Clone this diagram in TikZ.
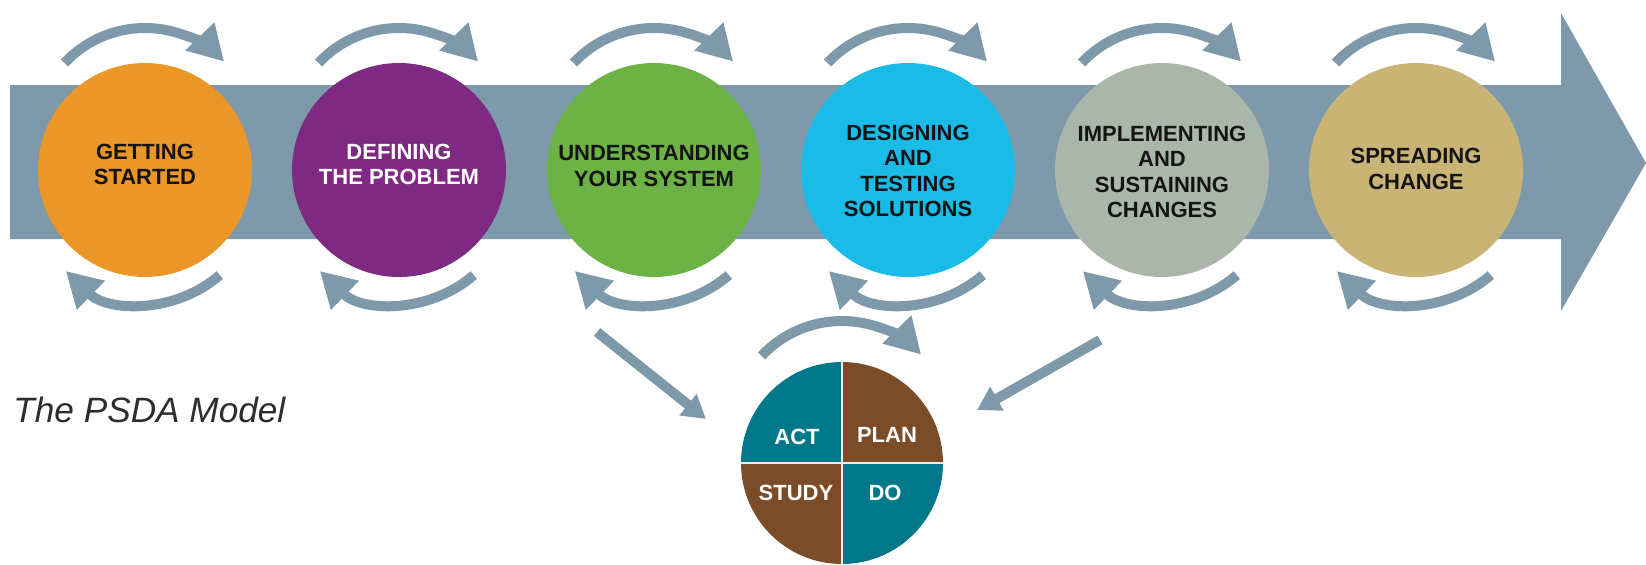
\documentclass[tikz,border=0pt]{standalone}
\usepackage{fontspec}
\setmainfont{Liberation Sans}
\usetikzlibrary{arrows.meta}
\definecolor{bandc}{RGB}{126,153,170}
\definecolor{c1}{RGB}{234,150,40}
\definecolor{c2}{RGB}{126,42,130}
\definecolor{c3}{RGB}{108,178,68}
\definecolor{c4}{RGB}{26,187,230}
\definecolor{c5}{RGB}{170,182,170}
\definecolor{c6}{RGB}{202,180,117}
\definecolor{tealq}{RGB}{0,120,138}
\definecolor{brownq}{RGB}{122,76,40}
\definecolor{txtc}{RGB}{20,20,20}
\definecolor{titlec}{RGB}{45,45,45}
\begin{document}
\begin{tikzpicture}[x=0.5pt,y=-0.5pt,
  stage/.style={circle, inner sep=0pt, minimum size=107pt},
  lbl/.style={font=\fontsize{11}{12.8}\selectfont\bfseries, align=center, text=txtc, inner sep=0pt},
  qlbl/.style={font=\fontsize{11}{12.8}\selectfont\bfseries, text=white, inner sep=0pt},
  loopar/.style={draw=bandc, line width=5pt, -{Triangle[width=19pt,length=17.5pt]}},
  diagar/.style={draw=bandc, line width=5pt, -{Triangle[width=13pt,length=11.5pt]}}]
\useasboundingbox (0,0) rectangle (1646,564);
\clip (0,0) rectangle (1646,564);
% main band arrow
\fill[bandc] (10,85) -- (1561,85) -- (1561,13) -- (1646,163) -- (1561,311) -- (1561,239) -- (10,239) -- cycle;
% stage circles
\node[stage, fill=c1] (s1) at (145,170) {};
\node[stage, fill=c2] (s2) at (399,170) {};
\node[stage, fill=c3] (s3) at (654,170) {};
\node[stage, fill=c4] (s4) at (908,170) {};
\node[stage, fill=c5] (s5) at (1162,170) {};
\node[stage, fill=c6] (s6) at (1416,170) {};
% labels
\node[lbl] (l1) at (145,164.5) {GETTING\\STARTED};
\node[lbl, text=white] (l2) at (399,164.5) {DEFINING\\THE PROBLEM};
\node[lbl] (l3) at (654,166) {UNDERSTANDING\\YOUR SYSTEM};
\node[lbl] (l4) at (908,171) {DESIGNING\\AND\\TESTING\\SOLUTIONS};
\node[lbl] (l5) at (1162,172) {IMPLEMENTING\\AND\\SUSTAINING\\CHANGES};
\node[lbl] (l6) at (1416,169) {SPREADING\\CHANGE};
% loop arrows
\foreach \i/\x in {1/145,2/399,3/654,4/908,5/1162,6/1416} {
  \coordinate (tc\i) at (\x,138);
  \coordinate (bc\i) at (\x,189);
  \draw[loopar] ([shift={(-137:110)}]tc\i) arc[start angle=-137,end angle=-44,radius=110];
  \draw[loopar] ([shift={(49:114)}]bc\i) arc[start angle=49,end angle=134,radius=114];
}
% PDSA wheel
\node[circle, inner sep=0pt, minimum size=101pt] (pdsa) at (842,463) {};
\begin{scope}
  \clip (pdsa.center) circle[radius=101];
  \fill[tealq] (pdsa.center) rectangle ++(-110,-110);
  \fill[brownq] (pdsa.center) rectangle ++(110,-110);
  \fill[brownq] (pdsa.center) rectangle ++(-110,110);
  \fill[tealq] (pdsa.center) rectangle ++(110,110);
\end{scope}
\draw[white!85!gray, line width=0.6pt] (pdsa.north) -- (pdsa.south);
\draw[white!85!gray, line width=0.6pt] (pdsa.west) -- (pdsa.east);
\node[qlbl] (act) at (797,437) {ACT};
\node[qlbl] (plan) at (887,435) {PLAN};
\node[qlbl] (study) at (796,493) {STUDY};
\node[qlbl] (do) at (885,493) {DO};
\coordinate (pc) at (842,431);
\draw[loopar] ([shift={(-137:110)}]pc) arc[start angle=-137,end angle=-44,radius=110];
% diagonal arrows into the wheel
\coordinate (da1) at (597,332);
\coordinate (dh1) at (706,419);
\coordinate (da2) at (1100,340);
\coordinate (dh2) at (977,410);
\draw[diagar] (da1) -- (dh1);
\draw[diagar] (da2) -- (dh2);
% title
\node[anchor=base west, inner sep=0pt, text=titlec, font=\fontsize{17.6}{20}\selectfont\itshape] (title) at (13,422) {The PSDA Model};
\end{tikzpicture}
\end{document}
